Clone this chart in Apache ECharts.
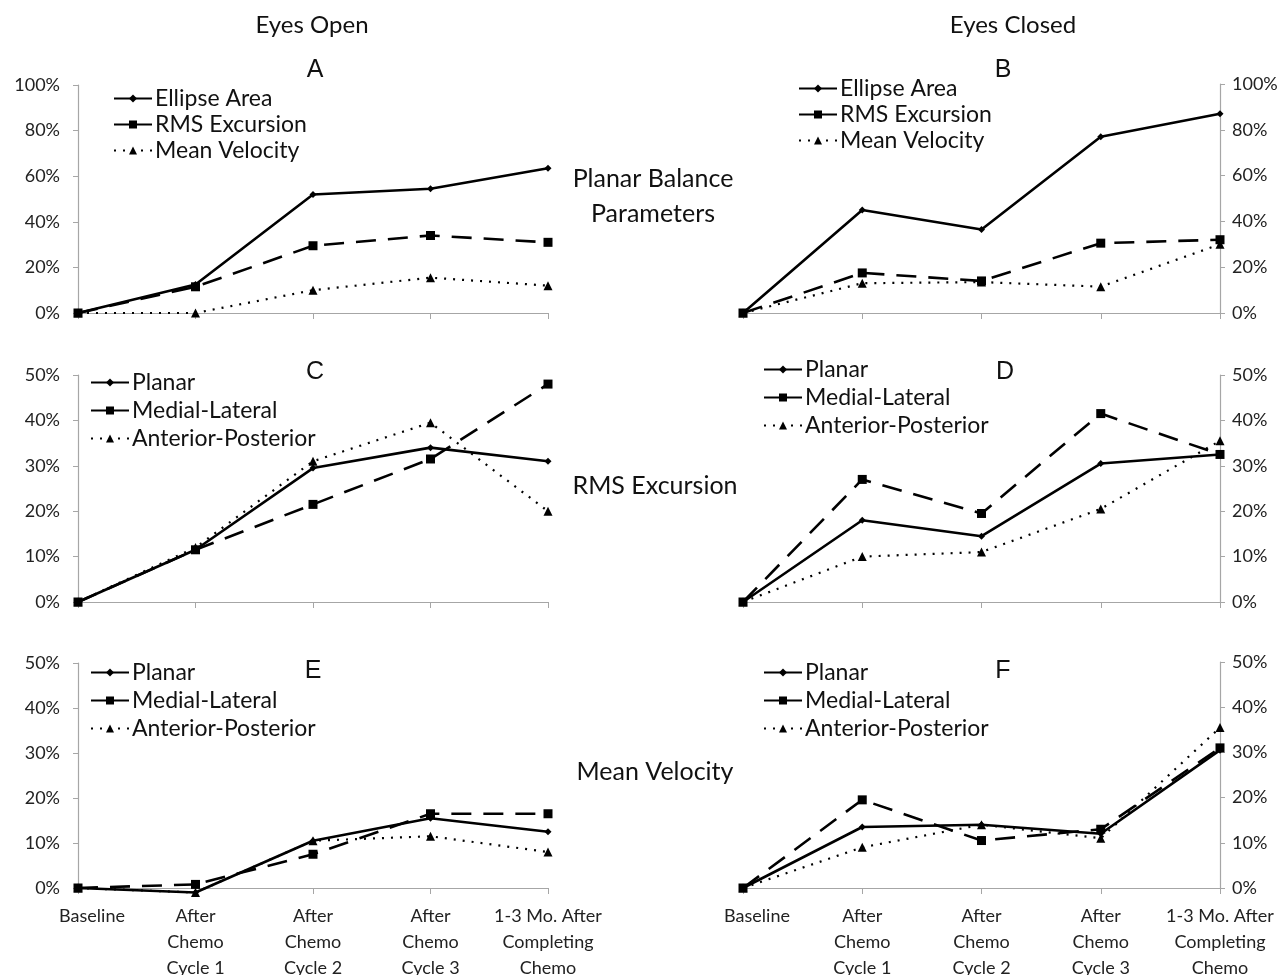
<!DOCTYPE html>
<html>
<head>
<meta charset="UTF-8">
<title>Balance parameters</title>
<script src="https://cdn.jsdelivr.net/npm/echarts@6/dist/echarts.min.js"></script>
</head>
<body style="margin:0;background:#fff;">
<div id="main" style="width:1288px;height:975px;"></div>
<script type="text/javascript">
// categories on the x axis
var categories = ['Baseline', 'After\nChemo\nCycle 1', 'After\nChemo\nCycle 2', 'After\nChemo\nCycle 3', '1-3 Mo. After\nCompleting\nChemo'];

// A - eyes open, planar balance parameters
var openEllipse = [0, 12.5, 52, 54.5, 63.5];
var openRms = [0, 11.5, 29.5, 34, 31];
var openMv = [0, 0, 10, 15.5, 12];
// B - eyes closed, planar balance parameters
var closedEllipse = [0, 45, 36.5, 77, 87];
var closedRms = [0, 17.5, 14, 30.5, 32];
var closedMv = [0, 13, 13.5, 11.5, 30];
// C - eyes open, RMS excursion
var openRmsPlanar = [0, 11.5, 29.5, 34, 31];
var openRmsMl = [0, 11.5, 21.5, 31.5, 48];
var openRmsAp = [0, 12, 31, 39.5, 20];
// D - eyes closed, RMS excursion
var closedRmsPlanar = [0, 18, 14.5, 30.5, 32.5];
var closedRmsMl = [0, 27, 19.5, 41.5, 32.5];
var closedRmsAp = [0, 10, 11, 20.5, 35.5];
// E - eyes open, mean velocity
var openMvPlanar = [0, -1, 10.5, 15.5, 12.5];
var openMvMl = [0, 0.8, 7.5, 16.5, 16.5];
var openMvAp = [0, -1, 10.5, 11.5, 8];
// F - eyes closed, mean velocity
var closedMvPlanar = [0, 13.5, 14, 12, 30.5];
var closedMvMl = [0, 19.5, 10.5, 13, 31];
var closedMvAp = [0, 9, 14, 11, 35.5];

var topTicks = { max: 100, interval: 20 };
var lowTicks = { max: 50, interval: 10 };

var font = 'Lato, "Open Sans", sans-serif';
var axisGray = '#a6a6a6';
var textGray = '#222';

var styles = {
    solid: { lineStyle: { color: '#000', width: 2.6, type: 'solid' }, symbol: 'diamond', symbolSize: 7 },
    dashed: { lineStyle: { color: '#000', width: 2.6, type: [20, 12] }, symbol: 'rect', symbolSize: 9 },
    dotted: { lineStyle: { color: '#000', width: 2.2, type: [2, 7] }, symbol: 'triangle', symbolSize: 9 }
};

function line(name, data, kind, idx) {
    var s = styles[kind];
    return {
        name: name, type: 'line', data: data,
        xAxisIndex: idx, yAxisIndex: idx,
        symbol: s.symbol, symbolSize: s.symbolSize,
        itemStyle: { color: '#000' },
        lineStyle: s.lineStyle,
        clip: false, z: kind == 'solid' ? 3 : 2
    };
}

// grid boxes [left, top, width, height]
var boxes = [
    [78, 85, 470, 228],
    [743, 84, 477, 229],
    [78, 375, 470, 227],
    [743, 375, 477, 227],
    [78, 663, 470, 225],
    [743, 662, 477, 226]
];

var grids = [], xAxes = [], yAxes = [];
boxes.forEach(function (b, i) {
    grids.push({ left: b[0], top: b[1], width: b[2], height: b[3], outerBoundsMode: 'none', containLabel: false });
    var bottomRow = i >= 4;
    xAxes.push({
        type: 'category', gridIndex: i, data: categories, boundaryGap: false,
        axisLine: { lineStyle: { color: axisGray, width: 1.2 } },
        axisTick: { show: true, length: 6, alignWithLabel: true, lineStyle: { color: axisGray } },
        axisLabel: {
            show: bottomRow, interval: 0, margin: 15, color: textGray,
            fontFamily: font, fontSize: 18, lineHeight: 26,
            formatter: function (v) { return v == 'Baseline' ? '{b|' + v + '}' : v; },
            rich: { b: { fontFamily: font, fontSize: 18, color: textGray, padding: [0, 0, 0, 28] } }
        },
        splitLine: { show: false }
    });
    var ticks = i < 2 ? topTicks : lowTicks;
    var right = i % 2 == 1;
    yAxes.push({
        type: 'value', gridIndex: i, min: 0, max: ticks.max, interval: ticks.interval,
        position: right ? 'right' : 'left',
        axisLine: { show: true, lineStyle: { color: axisGray, width: 1.2 } },
        axisTick: { show: true, length: 5, lineStyle: { color: axisGray } },
        axisLabel: { formatter: '{value}%', color: textGray, fontFamily: font, fontSize: 18, margin: right ? 12 : 18 },
        splitLine: { show: false }
    });
});

var series = [
    line('Ellipse Area', openEllipse, 'solid', 0),
    line('RMS Excursion', openRms, 'dashed', 0),
    line('Mean Velocity', openMv, 'dotted', 0),
    line('Ellipse Area', closedEllipse, 'solid', 1),
    line('RMS Excursion', closedRms, 'dashed', 1),
    line('Mean Velocity', closedMv, 'dotted', 1),
    line('Planar', openRmsPlanar, 'solid', 2),
    line('Medial-Lateral', openRmsMl, 'dashed', 2),
    line('Anterior-Posterior', openRmsAp, 'dotted', 2),
    line('Planar', closedRmsPlanar, 'solid', 3),
    line('Medial-Lateral', closedRmsMl, 'dashed', 3),
    line('Anterior-Posterior', closedRmsAp, 'dotted', 3),
    line('Planar', openMvPlanar, 'solid', 4),
    line('Medial-Lateral', openMvMl, 'dashed', 4),
    line('Anterior-Posterior', openMvAp, 'dotted', 4),
    line('Planar', closedMvPlanar, 'solid', 5),
    line('Medial-Lateral', closedMvMl, 'dashed', 5),
    line('Anterior-Posterior', closedMvAp, 'dotted', 5)
];

function legend(names, left, top, gap) {
    return {
        orient: 'vertical', left: left, top: top, itemGap: gap,
        itemWidth: 38, itemHeight: 10, selectedMode: false,
        textStyle: { fontFamily: font, fontSize: 23, color: '#111', padding: [0, 0, 0, -2] },
        data: [
            { name: names[0] },
            { name: names[1], lineStyle: { type: 'solid' } }, // legend shows solid line for the dashed series
            { name: names[2] }
        ]
    };
}
var topNames = ['Ellipse Area', 'RMS Excursion', 'Mean Velocity'];
var lowNames = ['Planar', 'Medial-Lateral', 'Anterior-Posterior'];

function txt(t, x, y, size, fam) {
    return {
        type: 'text', x: x, y: y,
        style: { text: t, fontSize: size, fontFamily: fam || font, fill: '#111', textAlign: 'center', textVerticalAlign: 'middle', lineHeight: 35 }
    };
}
var letterFont = '"Liberation Sans", Arial, sans-serif';

var option = {
    animation: false,
    backgroundColor: '#fff',
    grid: grids,
    xAxis: xAxes,
    yAxis: yAxes,
    series: series,
    legend: [
        legend(topNames, 108, 82, 3),
        legend(topNames, 793, 72, 3),
        legend(lowNames, 85, 366, 5),
        legend(lowNames, 758, 353, 5),
        legend(lowNames, 85, 656, 5),
        legend(lowNames, 758, 656, 5)
    ],
    graphic: [
        txt('Eyes Open', 312, 25, 24),
        txt('Eyes Closed', 1013, 25, 24),
        txt('A', 315, 70, 25, letterFont),
        txt('B', 1003, 70, 25, letterFont),
        txt('C', 315, 372, 25, letterFont),
        txt('D', 1005, 372, 25, letterFont),
        txt('E', 313, 671, 25, letterFont),
        txt('F', 1003, 671, 25, letterFont),
        txt('Planar Balance\nParameters', 653, 196, 25),
        txt('RMS Excursion', 655, 486, 25),
        txt('Mean Velocity', 655, 772, 25)
    ]
};

var myChart = echarts.init(document.getElementById('main'));
myChart.setOption(option);
</script>
</body>
</html>
